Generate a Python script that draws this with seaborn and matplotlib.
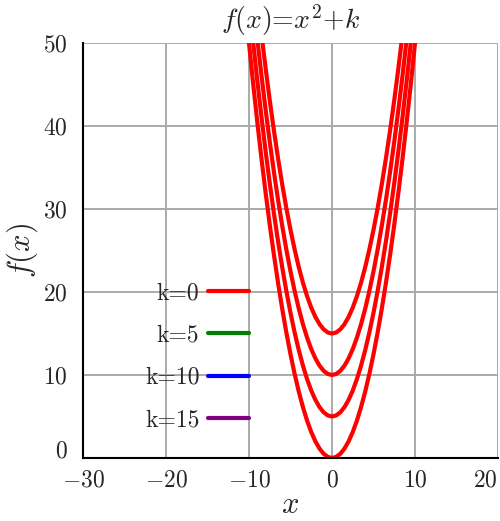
import pandas as pd
import matplotlib
matplotlib.use('Agg')
import matplotlib.pyplot as plt
from matplotlib.lines import Line2D
import seaborn as sns

### values
x_vals = [-10.5, -10, -9.5, -9, -8.5, -8, -7.5, -7, -6.5, -6, -5.5, -5, -4.5, -4, -3.5,
          -3, -2.5, -2, -1.5, -1, -0.5, 0, 0.5, 1, 1.5, 2, 2.5, 3, 3.5, 4, 4.5, 5,
          5.5, 6, 6.5, 7, 7.5, 8, 8.5, 9, 9.5, 10, 10.5]
base_vals = [55.125, 50, 45.125, 40.5, 36.125, 32, 28.125, 24.5, 21.125, 18, 15.125,
             12.5, 10.125, 8, 6.125, 4.5, 3.125, 2, 1.125, 0.5, 0.125, 0, 0.125, 0.5,
             1.125, 2, 3.125, 4.5, 6.125, 8, 10.125, 12.5, 15.125, 18, 21.125, 24.5,
             28.125, 32, 36.125, 40.5, 45.125, 50, 55.125]
k_vals = [0, 5, 10, 15]
legend_labels = ['k=0', 'k=5', 'k=10', 'k=15']
legend_colors = ['red', 'green', 'blue', 'purple']
x_ticks = [-30, -20, -10, 0, 10, 20]
y_ticks = [0, 10, 20, 30, 40, 50]

sns.set_style('whitegrid')
plt.rcParams['font.family'] = 'serif'
plt.rcParams['font.serif'] = ['cmr10', 'DejaVu Serif']
plt.rcParams['mathtext.fontset'] = 'cm'
plt.rcParams['axes.formatter.use_mathtext'] = True

### long table: one curve per k
rows = []
for k in k_vals:
    for xv, bv in zip(x_vals, base_vals):
        rows.append({'x': xv, 'y': bv + k, 'k': k})
df = pd.DataFrame(rows)

fig = plt.figure(figsize=(5, 5.21), dpi=100)
ax = fig.add_axes([0.166, 0.121, 0.830, 0.796])

sns.lineplot(data=df, x='x', y='y', hue='k', palette=['red'] * len(k_vals),
             linewidth=3, legend=False, ax=ax, sort=False, estimator=None, units='k')

ax.set_xlim(-30, 20)
ax.set_ylim(0, 50)
ax.set_xticks(x_ticks)
ax.set_yticks(y_ticks)
ax.grid(True, color='#aaaaaa', linewidth=1.4)
for s in ['top', 'right']:
    ax.spines[s].set_visible(False)
for s in ['left', 'bottom']:
    ax.spines[s].set_color('black')
    ax.spines[s].set_linewidth(1.5)
ax.tick_params(length=0, labelsize=17)
ax.tick_params(axis='x', pad=8)
ax.tick_params(axis='y', pad=11)
ax.get_xticklabels()[-1].set_ha('right')
ax.get_yticklabels()[0].set_va('baseline')

ax.set_title('$f(x)$=$x^2$+$k$', fontsize=20, pad=10)
ax.set_xlabel('$x$', fontsize=22, labelpad=0)
ax.set_ylabel('$f(x)$', fontsize=22, labelpad=2)

### legend with labels before the short lines
handles = [Line2D([], [], color=c, linewidth=3) for c in legend_colors]
ax.legend(handles, legend_labels, loc='center right', bbox_to_anchor=(-10, 12.2),
          bbox_transform=ax.transData, markerfirst=False, frameon=False,
          fontsize=17, handlelength=1.75, handletextpad=0.35, labelspacing=0.85,
          borderpad=0, borderaxespad=0)

fig.savefig('out.png', dpi=100)
